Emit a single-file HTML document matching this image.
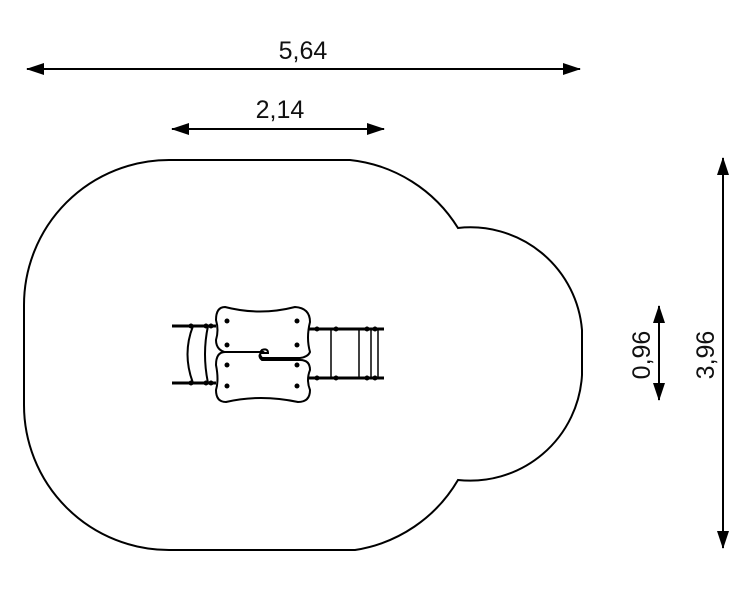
<!DOCTYPE html>
<html><head><style>
html,body{margin:0;padding:0;background:#fff;}
svg{display:block;}
text{font-family:"Liberation Sans",sans-serif;font-size:25px;fill:#111;}
</style></head><body>
<svg width="756" height="599" viewBox="0 0 756 599">
<defs>
<marker id="b" viewBox="0 0 18 12" markerWidth="18" markerHeight="12" refX="17" refY="6" orient="auto-start-reverse" markerUnits="userSpaceOnUse"><path d="M0,0 L18,6 L0,12 Z" fill="#000"/></marker>
</defs>
<g stroke="#000" stroke-width="2" fill="none">
<line x1="27" y1="69" x2="580" y2="69" marker-start="url(#b)" marker-end="url(#b)"/>
<line x1="172" y1="129" x2="384" y2="129" marker-start="url(#b)" marker-end="url(#b)"/>
<line x1="723" y1="158" x2="723" y2="548" marker-start="url(#b)" marker-end="url(#b)"/>
<line x1="659" y1="306" x2="659" y2="400" marker-start="url(#b)" marker-end="url(#b)"/>
<path d="M24,305 A145,145 0 0 1 169,160 L350,160 A145,145 0 0 1 458,228 A112,112 0 0 1 582,330 L582,375 A112,112 0 0 1 458,480 A145,145 0 0 1 355,550 L169,550 A145,145 0 0 1 24,405 Z"/>
</g>
<text x="303" y="59" text-anchor="middle">5,64</text>
<text x="280" y="118" text-anchor="middle">2,14</text>
<text transform="translate(714,355) rotate(-90)" text-anchor="middle">3,96</text>
<text transform="translate(650,355) rotate(-90)" text-anchor="middle">0,96</text>
<g stroke="#000" fill="none">
<line x1="172" y1="326" x2="216" y2="326" stroke-width="3"/>
<line x1="172" y1="383" x2="216" y2="383" stroke-width="3"/>
<path d="M193,326 Q182,354 193,383" stroke-width="2"/>
<path d="M208,326 Q202,354 208,383" stroke-width="2"/>
<line x1="305" y1="329" x2="384" y2="329" stroke-width="3"/>
<line x1="305" y1="378" x2="384" y2="378" stroke-width="3"/>
<line x1="331" y1="329" x2="331" y2="378" stroke-width="1.5"/>
<line x1="359" y1="329" x2="359" y2="378" stroke-width="1.5"/>
<line x1="371" y1="329" x2="371" y2="378" stroke-width="1.5"/>
<line x1="378" y1="329" x2="378" y2="378" stroke-width="1.5"/>
<path d="M225,307 Q260,316 295,307 Q310,308 310,322 Q306,338 310,352 Q308,357 300,358 L262,358 Q258,354 262,350 Q268,348 268,353 L230,353 Q216,352 216,340 Q219,330 216,320 Q216,307 225,307 Z" fill="#fff" stroke-width="2"/>
<path d="M225,352 L262,352 Q257,356 262,360 L300,360 Q310,360 310,370 Q306,380 310,390 Q310,402 298,402 Q260,394 226,402 Q216,402 216,390 Q219,380 216,365 Q216,352 225,352 Z" fill="#fff" stroke-width="2"/>
</g>
<g fill="#000">
<circle cx="227" cy="321" r="2.5"/><circle cx="297" cy="321" r="2.5"/>
<circle cx="227" cy="345" r="2.5"/><circle cx="297" cy="345" r="2.5"/>
<circle cx="227" cy="365" r="2.5"/><circle cx="297" cy="365" r="2.5"/>
<circle cx="227" cy="386" r="2.5"/><circle cx="297" cy="386" r="2.5"/>
<circle cx="191" cy="326" r="2.5"/><circle cx="206" cy="326" r="2.5"/><circle cx="211" cy="326" r="2.5"/>
<circle cx="191" cy="383" r="2.5"/><circle cx="206" cy="383" r="2.5"/><circle cx="211" cy="383" r="2.5"/>
<circle cx="317" cy="329" r="2.5"/><circle cx="336" cy="329" r="2.5"/><circle cx="367" cy="329" r="2.5"/><circle cx="375" cy="329" r="2.5"/>
<circle cx="317" cy="378" r="2.5"/><circle cx="336" cy="378" r="2.5"/><circle cx="367" cy="378" r="2.5"/><circle cx="375" cy="378" r="2.5"/>
</g>
</svg>
</body></html>
